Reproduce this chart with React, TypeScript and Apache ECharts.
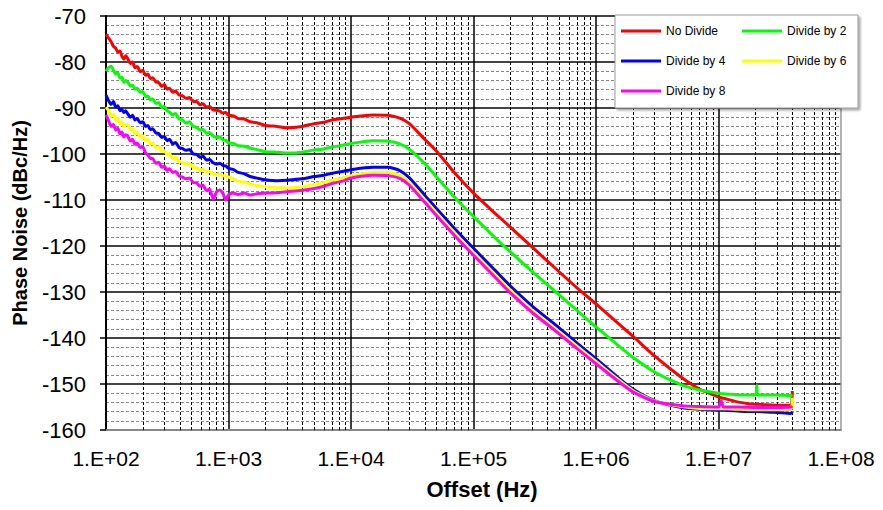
import React, { useEffect, useRef } from "react";
import * as echarts from "echarts";

const offsets = [
  100, 105, 110, 115, 120, 125, 130, 135, 140, 145,
  150, 158, 165, 172, 180, 190, 200, 210, 220, 230,
  240, 255, 270, 285, 300, 315, 330, 350, 370, 395,
  420, 450, 480, 515, 550, 585, 620, 660, 700, 750,
  800, 850, 900, 950, 1000, 1100, 1200, 1350, 1500, 1750,
  2000, 2500, 3000, 4000, 5000, 6000, 7000, 8500, 1e4, 1.5e4,
  2e4, 2.5e4, 3e4, 4e4, 5e4, 7e4, 1e5, 1.5e5, 2e5, 3e5,
  5e5, 7e5, 1e6, 1.5e6, 2e6, 3e6, 5e6, 7e6, 1e7, 1.05e7,
  1.1e7, 1.5e7, 2e7, 2.05e7, 2.1e7, 3e7, 3.9e7, 4e7,
];

const noDivide = [
  -74.0, -74.8, -75.6, -76.6, -77.0, -77.9, -77.6, -78.8, -79.4, -78.6,
  -79.2, -80.3, -80.0, -81.2, -81.0, -82.1, -81.8, -82.9, -82.6, -83.6,
  -83.4, -84.3, -84.5, -85.3, -84.9, -85.9, -85.7, -86.6, -86.3, -87.2,
  -87.3, -87.9, -87.7, -88.6, -88.6, -89.3, -89.1, -89.8, -89.7, -90.4,
  -90.5, -90.7, -91.1, -91.0, -91.6, -91.7, -92.3, -92.4, -93.0, -93.3,
  -93.8, -94.0, -94.3, -94.0, -93.4, -93.1, -92.6, -92.3, -92.0, -91.5,
  -91.6, -92.2, -93.4, -96.8, -99.4, -104.1, -108.5, -112.9, -115.9, -120.2,
  -125.6, -129.1, -132.6, -136.7, -139.6, -143.9, -148.6, -151.1, -152.8, -153.0,
  -153.1, -154.0, -154.4, -154.4, -154.4, -154.6, -154.6, -151.5,
];

const divideBy2 = [
  -82.0, -81.2, -80.9, -81.8, -82.6, -82.4, -83.5, -83.3, -84.4, -84.0,
  -84.3, -85.2, -85.0, -85.9, -85.7, -86.6, -86.4, -87.5, -87.4, -88.2,
  -88.0, -89.0, -88.8, -89.9, -89.6, -90.6, -90.9, -91.5, -91.2, -92.4,
  -92.6, -93.3, -93.0, -94.0, -94.2, -94.8, -94.6, -95.5, -95.3, -96.1,
  -96.4, -96.3, -96.9, -97.0, -97.6, -97.7, -98.2, -98.3, -98.7, -99.1,
  -99.5, -99.6, -99.8, -99.6, -99.1, -98.9, -98.5, -98.1, -97.7, -97.1,
  -97.2, -97.8, -99.0, -102.1, -105.0, -109.4, -113.6, -118.2, -121.3, -125.5,
  -130.6, -134.0, -137.6, -141.5, -144.2, -147.4, -150.2, -151.3, -152.0, -152.1,
  -152.1, -152.4, -152.4, -150.3, -152.4, -152.4, -152.5, -152.3,
];

const divideBy4 = [
  -87.2, -88.4, -89.2, -88.6, -89.8, -89.5, -90.6, -90.3, -91.0, -90.6,
  -91.2, -92.0, -91.6, -92.6, -92.3, -93.2, -93.0, -94.0, -93.8, -94.7,
  -94.5, -95.4, -95.6, -96.4, -96.2, -97.1, -96.8, -97.8, -97.5, -98.6,
  -98.8, -99.2, -99.0, -100.0, -100.1, -100.7, -100.5, -101.3, -101.2, -101.9,
  -102.2, -102.0, -102.5, -102.6, -103.1, -103.4, -104.0, -104.3, -104.9, -105.3,
  -105.6, -105.8, -105.7, -105.4, -104.9, -104.6, -104.2, -103.8, -103.4, -102.9,
  -102.9, -103.6, -105.2, -109.0, -111.9, -116.2, -120.5, -125.3, -128.7, -133.0,
  -137.8, -141.1, -144.5, -148.5, -151.1, -153.6, -155.1, -155.5, -155.7, -155.7,
  -155.7, -155.9, -156.0, -156.0, -156.0, -156.2, -156.4, -156.0,
];

const divideBy6 = [
  -89.8, -90.6, -91.8, -91.4, -92.6, -92.2, -93.4, -93.0, -94.0, -93.6,
  -93.6, -94.8, -94.5, -95.6, -95.2, -96.3, -96.0, -97.1, -96.8, -97.8,
  -97.6, -98.6, -98.4, -99.4, -99.3, -100.2, -99.9, -101.0, -100.7, -101.7,
  -101.8, -102.3, -102.0, -102.9, -103.0, -103.5, -103.3, -103.9, -103.8, -104.3,
  -104.4, -104.4, -104.7, -104.8, -105.0, -105.4, -105.9, -106.1, -106.5, -106.9,
  -107.1, -107.3, -107.4, -107.1, -106.6, -106.2, -105.7, -105.2, -104.7, -104.0,
  -104.0, -104.6, -106.2, -109.9, -112.8, -117.1, -121.4, -126.2, -129.6, -133.9,
  -138.6, -141.8, -145.1, -148.9, -151.4, -153.7, -154.9, -155.3, -155.4, -155.4,
  -155.4, -155.5, -155.6, -155.6, -155.6, -155.6, -155.6, -153.0,
];

const divideBy8 = [
  -91.5, -92.8, -94.0, -93.6, -94.8, -94.4, -95.6, -95.2, -96.3, -95.8,
  -96.0, -97.2, -96.8, -97.9, -97.6, -98.6, -98.4, -99.8, -100.2, -101.0,
  -101.0, -102.0, -101.8, -102.9, -102.6, -103.6, -103.2, -104.0, -103.8, -104.8,
  -105.0, -105.4, -105.2, -106.2, -106.3, -107.0, -106.8, -108.0, -107.6, -109.8,
  -108.2, -107.8, -108.6, -110.0, -108.9, -108.5, -108.8, -108.5, -108.9, -108.6,
  -108.5, -108.4, -108.2, -107.9, -107.5, -107.0, -106.4, -105.9, -105.2, -104.6,
  -104.7, -105.3, -106.8, -110.5, -113.4, -117.7, -122.0, -126.8, -130.2, -134.4,
  -139.1, -142.3, -145.6, -149.3, -151.7, -153.8, -154.7, -154.9, -155.0, -153.6,
  -155.0, -155.0, -155.1, -155.1, -155.1, -155.1, -155.0, -154.8,
];

const seriesNames = ["No Divide", "Divide by 2", "Divide by 4", "Divide by 6", "Divide by 8"];
const seriesValues = [noDivide, divideBy2, divideBy4, divideBy6, divideBy8];
const seriesColors = ["#ff0000", "#00ff00", "#0000ff", "#ffff00", "#ff00ff"];

const minorOffsets = [2, 3, 4, 5, 6, 7, 8, 9].flatMap((m) =>
  [1e2, 1e3, 1e4, 1e5, 1e6, 1e7].map((d) => m * d)
);

const FONT = "'Liberation Sans', Arial, sans-serif";

export default function App() {
  const ref = useRef<HTMLDivElement>(null);

  useEffect(() => {
    if (!ref.current) return;
    const chart = echarts.init(ref.current, null, { renderer: "svg" });

    const lineSeries = seriesNames.map((name, i) => ({
      name,
      type: "line",
      data: offsets.map((f, j) => [f, seriesValues[i][j]]),
      showSymbol: false,
      symbol: "none",
      smooth: 0.2,
      lineStyle: { color: seriesColors[i], width: 3 },
      itemStyle: { color: seriesColors[i] },
      z: 3 + i,
    }));

    chart.setOption({
      animation: false,
      backgroundColor: "#ffffff",
      grid: { left: 106, top: 16, right: 42, bottom: 80, containLabel: false },
      xAxis: {
        type: "log",
        logBase: 10,
        min: 100,
        max: 1e8,
        name: "Offset (Hz)",
        nameLocation: "middle",
        nameGap: 48,
        nameTextStyle: {
          fontFamily: FONT,
          fontSize: 22,
          fontWeight: "bold",
          color: "#000",
          padding: [0, 0, 0, 17],
        },
        axisLine: { show: true, onZero: false, lineStyle: { color: "#888", width: 2 } },
        axisTick: { show: false },
        axisLabel: {
          fontFamily: FONT,
          fontSize: 21,
          color: "#000",
          margin: 18,
          formatter: (v: number) => {
            const e = Math.round(Math.log10(v));
            return "1.E+" + String(e).padStart(2, "0");
          },
        },
        splitLine: {
          show: true,
          lineStyle: { color: ["#000", "#000", "#000", "#000", "#000", "#000", "#999"], width: 1.5 },
        },
      },
      yAxis: {
        type: "value",
        min: -160,
        max: -70,
        interval: 10,
        name: "Phase Noise (dBc/Hz)",
        nameLocation: "middle",
        nameGap: 76,
        nameRotate: 90,
        nameTextStyle: {
          fontFamily: FONT,
          fontSize: 20,
          fontWeight: "bold",
          color: "#000",
        },
        axisLine: { show: true, lineStyle: { color: "#000", width: 2 } },
        axisTick: { show: true, length: 6, lineStyle: { color: "#000", width: 1.5 } },
        axisLabel: { fontFamily: FONT, fontSize: 22, color: "#000", margin: 20 },
        splitLine: { show: true, lineStyle: { color: "#444", width: 2 } },
        minorTick: { show: false, splitNumber: 5 },
        minorSplitLine: { show: true, lineStyle: { color: "#888", width: 1, type: [3, 2] } },
      },
      legend: [
        {
          data: ["No Divide", "Divide by 4", "Divide by 8"],
          orient: "vertical",
          left: 621,
          top: 24,
          padding: 0,
          itemWidth: 40,
          itemHeight: 3,
          itemGap: 16,
          icon: "rect",
          selectedMode: false,
          z: 20,
          textStyle: { fontFamily: FONT, fontSize: 12, color: "#000", lineHeight: 14 },
        },
        {
          data: ["Divide by 2", "Divide by 6"],
          orient: "vertical",
          left: 742,
          top: 24,
          padding: 0,
          itemWidth: 40,
          itemHeight: 3,
          itemGap: 16,
          icon: "rect",
          selectedMode: false,
          z: 20,
          textStyle: { fontFamily: FONT, fontSize: 12, color: "#000", lineHeight: 14 },
        },
      ],
      graphic: [
        {
          type: "rect",
          z: 15,
          silent: true,
          shape: { x: 615, y: 15, width: 243, height: 93 },
          style: {
            fill: "#ffffff",
            stroke: "#999",
            lineWidth: 1,
            shadowColor: "rgba(0,0,0,0.35)",
            shadowOffsetX: 2,
            shadowOffsetY: 2,
            shadowBlur: 2,
          },
        },
      ],
      series: [
        {
          type: "line",
          data: [],
          silent: true,
          z: 1,
          markLine: {
            silent: true,
            symbol: "none",
            z: 1,
            label: { show: false },
            lineStyle: { color: "#000", width: 1, type: [3, 2] },
            emphasis: { disabled: true },
            data: minorOffsets.map((v) => ({ xAxis: v })),
          },
        },
        ...lineSeries,
      ],
    });

    return () => chart.dispose();
  }, []);

  return (
    <div
      ref={ref}
      style={{ position: "fixed", left: 0, top: 0, width: 883, height: 510, background: "#fff" }}
    />
  );
}
